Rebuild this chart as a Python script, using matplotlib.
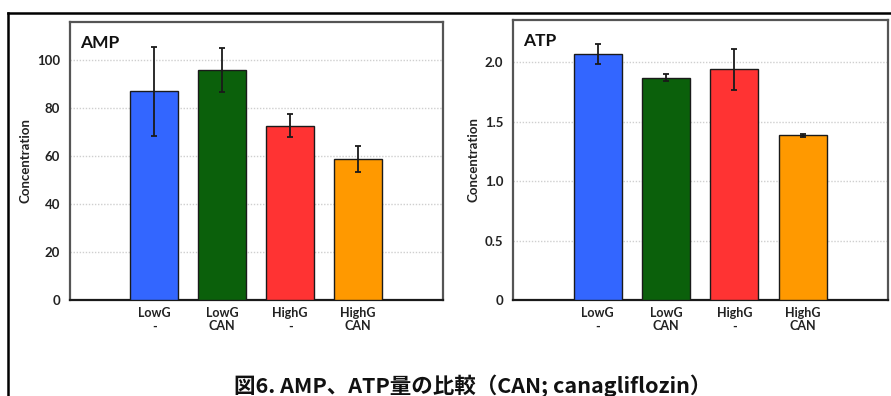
"""
plot.py
AMP / ATP concentration bar charts (LowG / HighG, with and without canagliflozin).
"""

import matplotlib
matplotlib.use('Agg')
import matplotlib.pyplot as plt
from matplotlib.lines import Line2D

# ── Data ──────────────────────────────────────────────────────────────────────

groups = ["LowG\n-", "LowG\nCAN", "HighG\n-", "HighG\nCAN"]
bar_colours = ["#3366ff", "#0b600b", "#ff3333", "#ff9900"]

amp_mean = [87.0, 95.8, 72.6, 58.8]
amp_err = [18.5, 9.1, 4.9, 5.3]

atp_mean = [2.07, 1.87, 1.94, 1.385]
atp_err = [0.085, 0.03, 0.175, 0.015]

amp_ticks = [0, 20, 40, 60, 80, 100]
amp_ticklabels = ["0", "20", "40", "60", "80", "100"]
atp_ticks = [0, 0.5, 1.0, 1.5, 2.0]
atp_ticklabels = ["0", "0.5", "1.0", "1.5", "2.0"]

caption = "図6. AMP、ATP量の比較（CAN; canagliflozin）"

# ── Style ─────────────────────────────────────────────────────────────────────

plt.rcParams['font.family'] = ['Lato', 'DejaVu Sans']
SPINE_COLOUR = "#555555"
TEXT_COLOUR = "#222222"


def draw_panel(ax, means, errs, ticks, ticklabels, ytop, label):
    x = list(range(1, len(means) + 1))
    ax.bar(x, means, width=0.7, color=bar_colours, edgecolor="#1a1a1a",
           linewidth=1.0, zorder=3)
    ax.errorbar(x, means, yerr=errs, fmt='none', ecolor="#1a1a1a",
                elinewidth=1.3, capsize=2.2, capthick=1.3, zorder=4)

    ax.set_xlim(-0.24, 5.25)
    ax.set_ylim(0, ytop)
    ax.set_xticks(x)
    ax.set_xticklabels(groups, fontsize=9, fontweight='bold',
                       color=TEXT_COLOUR, linespacing=1.15)
    ax.set_yticks(ticks)
    ax.set_yticklabels(ticklabels, fontsize=9.5, fontweight='bold',
                       color=TEXT_COLOUR)
    ax.tick_params(axis='both', length=0)
    ax.tick_params(axis='y', pad=7)
    ax.tick_params(axis='x', pad=5)

    for t in ticks[1:]:
        ax.axhline(t, color="#cfcfcf", linestyle=(0, (1, 1.2)),
                   linewidth=1.0, zorder=1)

    for s in ax.spines.values():
        s.set_color(SPINE_COLOUR)
        s.set_linewidth(1.6)
    ax.spines['bottom'].set_color("#1a1a1a")

    ax.set_ylabel("Concentration", fontsize=9.5, fontweight='bold',
                  color=TEXT_COLOUR, labelpad=4)
    ax.text(0.027, 0.925, label, transform=ax.transAxes, fontsize=12.5,
            fontweight='bold', color="#111111", va='center', ha='left')


fig = plt.figure(figsize=(8.91, 3.96), dpi=100)
W, H = 891, 396

ax_amp = fig.add_axes([70 / W, 1 - 300 / H, (443 - 70) / W, (300 - 22) / H])
ax_atp = fig.add_axes([513 / W, 1 - 300 / H, (888 - 513) / W, (300 - 20) / H])

draw_panel(ax_amp, amp_mean, amp_err, amp_ticks, amp_ticklabels, 115.8, "AMP")
draw_panel(ax_atp, atp_mean, atp_err, atp_ticks, atp_ticklabels, 2.356, "ATP")

# outer frame (only top and left edges are visible in the crop)
fig.add_artist(Line2D([8 / W, 1.0], [1 - 13 / H, 1 - 13 / H],
                      transform=fig.transFigure, color='black', linewidth=1.8))
fig.add_artist(Line2D([8 / W, 8 / W], [1 - 13 / H, 0.0],
                      transform=fig.transFigure, color='black', linewidth=1.8))

fig.text(473 / W, 1 - 386 / H, caption, ha='center', va='center',
         fontsize=15.5, fontweight='bold', color="#111111",
         family=['Noto Sans CJK JP', 'DejaVu Sans'])

fig.savefig("out.png", dpi=100, facecolor='white')
